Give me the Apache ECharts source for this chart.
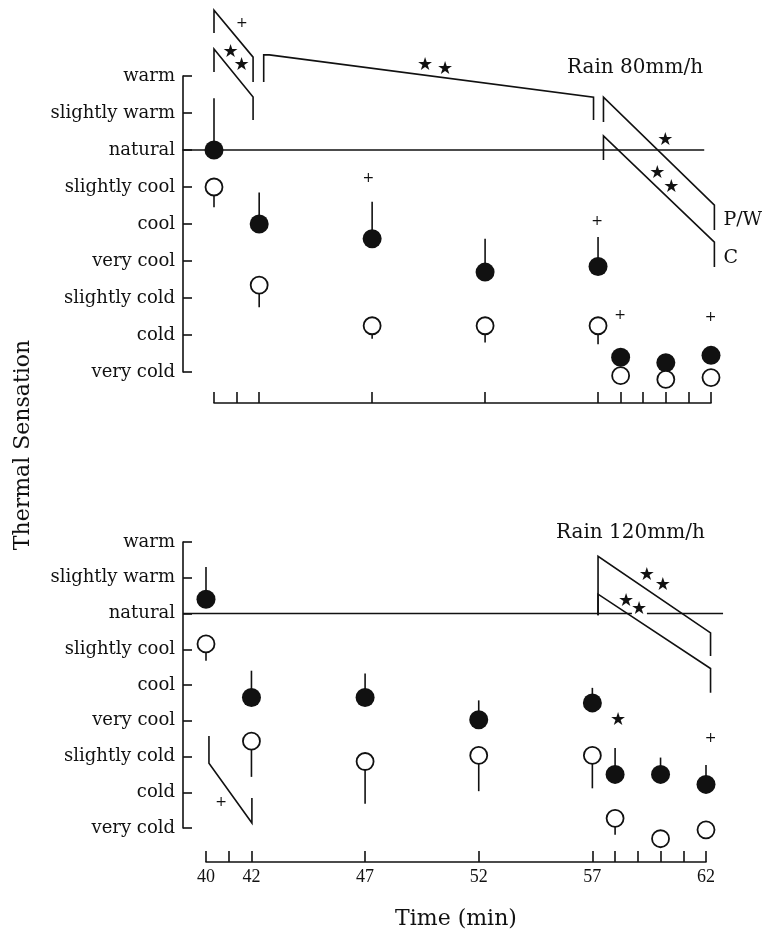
<!DOCTYPE html>
<html>
<head>
<meta charset="utf-8">
<script src="https://cdn.jsdelivr.net/npm/echarts@6/dist/echarts.min.js"></script>
<style>
  html, body { margin: 0; padding: 0; background: #fff; }
  #chart { width: 766px; height: 931px; }
</style>
</head>
<body>
<div id="chart"></div>
<script>
// thermal sensation scale, value 2 (warm) down to -6 (very cold)
const levels = ['warm', 'slightly warm', 'natural', 'slightly cool', 'cool',
  'very cool', 'slightly cold', 'cold', 'very cold']

const times = [40, 42, 47, 52, 57, 58, 60, 62]
const tickTimes = [40, 41, 42, 47, 52, 57, 58, 59, 60, 61, 62]
const labelTimes = [40, 42, 47, 52, 57, 62]

// Rain 80 mm/h  (filled = P/W, open = C), with end of the error bar
const pw80 = [0.0, -2.0, -2.4, -3.3, -3.15, -5.6, -5.75, -5.55]
const pw80Bar = [1.4, -1.15, -1.4, -2.4, -2.35, -5.6, -5.75, -5.55]
const c80 = [-1.0, -3.65, -4.75, -4.75, -4.75, -6.1, -6.2, -6.15]
const c80Bar = [-1.55, -4.25, -5.1, -5.2, -5.25, -6.1, -6.2, -6.15]

// Rain 120 mm/h
const pw120 = [0.4, -2.35, -2.35, -2.97, -2.5, -4.5, -4.5, -4.78]
const pw120Bar = [1.3, -1.6, -1.68, -2.43, -2.08, -3.76, -4.03, -4.24]
const c120 = [-0.85, -3.57, -4.14, -3.97, -3.97, -5.73, -6.3, -6.05]
const c120Bar = [-1.32, -4.57, -5.32, -4.97, -4.89, -6.19, -6.3, -6.05]

// significance brackets and the "natural" line, in (time, sensation) units
const brackets80 = [
  [[40, 3.16], [40, 3.78], [41.73, 2.51], [41.73, 1.84]],
  [[40, 2.11], [40, 2.73], [41.73, 1.43], [41.73, 0.81]],
  [[42.2, 1.84], [42.2, 2.57], [42.45, 2.57], [56.8, 1.43], [56.8, 0.81]],
  [[57.24, 0.76], [57.24, 1.43], [62.15, -1.49], [62.15, -2.16]],
  [[57.24, -0.27], [57.24, 0.38], [62.15, -2.49], [62.15, -3.16]],
  [[38.6, 0], [61.7, 0]]
]
const brackets120 = [
  [[57.25, -0.05], [57.25, 1.6], [62.2, -0.54], [62.2, -1.19]],
  [[57.25, -0.05], [57.25, 0.54], [62.2, -1.54], [62.2, -2.22]],
  [[40.13, -3.43], [40.13, -4.19], [42.02, -5.86], [42.02, -5.16]],
  [[38.99, 0], [58.74, 0]],
  [[59.4, 0], [62.75, 0]]
]

const marks80 = [
  [41.23, 3.41, '+'], [40.73, 2.65, '★'], [41.22, 2.3, '★'],
  [49.34, 2.3, '★'], [50.23, 2.19, '★'],
  [59.98, 0.27, '★'], [59.62, -0.62, '★'], [60.24, -1.0, '★'],
  [46.83, -0.76, '+'], [56.96, -1.92, '+'], [57.98, -4.46, '+'], [61.98, -4.51, '+']
]
const marks120 = [
  [59.4, 1.08, '★'], [60.1, 0.78, '★'], [58.48, 0.35, '★'], [59.05, 0.11, '★'],
  [40.66, -5.27, '+'], [58.13, -3.0, '★'], [62.2, -3.49, '+']
]
const tags80 = [[62.55, -1.89, 'P/W'], [62.55, -2.92, 'C']]

const serif = 'DejaVu Serif'
const ink = '#111'

function xAxisFor(idx, offset, showLabels) {
  return {
    type: 'value', gridIndex: idx, min: 40, max: 62, offset: offset,
    axisLine: { onZero: false, lineStyle: { color: ink, width: 1.6 } },
    axisTick: { inside: true, length: 11, customValues: tickTimes, lineStyle: { color: ink, width: 1.6 } },
    axisLabel: {
      show: showLabels, customValues: labelTimes, margin: 6,
      fontFamily: 'Liberation Serif', fontSize: 18, color: ink
    },
    splitLine: { show: false }
  }
}

function yAxisFor(idx, offset) {
  return {
    type: 'value', gridIndex: idx, min: -6, max: 2, interval: 1, offset: offset,
    axisLine: { show: true, onZero: false, lineStyle: { color: ink, width: 1.6 } },
    axisTick: { show: true, inside: true, length: 9, lineStyle: { color: ink, width: 1.6 } },
    axisLabel: {
      formatter: v => levels[2 - v], margin: 8,
      fontFamily: serif, fontSize: 18, color: ink
    },
    splitLine: { show: false }
  }
}

function barSeries(idx, vals, ends) {
  return {
    type: 'custom', xAxisIndex: idx, yAxisIndex: idx, z: 2, silent: true,
    data: times.map((t, i) => [t, vals[i], ends[i]]),
    renderItem: (params, api) => {
      const a = api.coord([api.value(0), api.value(1)])
      const b = api.coord([api.value(0), api.value(2)])
      return {
        type: 'line',
        shape: { x1: a[0], y1: a[1], x2: b[0], y2: b[1] },
        style: { stroke: ink, lineWidth: 1.6 }
      }
    }
  }
}

function dotSeries(idx, vals, filled) {
  return {
    type: 'scatter', xAxisIndex: idx, yAxisIndex: idx, z: 4, clip: false, silent: true,
    symbol: 'circle', symbolSize: filled ? 19 : 17,
    itemStyle: filled
      ? { color: ink, opacity: 1 }
      : { color: '#fff', borderColor: ink, borderWidth: 1.8, opacity: 1 },
    data: times.map((t, i) => [t, vals[i]])
  }
}

function bracketSeries(idx, list) {
  return {
    type: 'custom', xAxisIndex: idx, yAxisIndex: idx, z: 1, silent: true, clip: false,
    data: list.map((pts, i) => [pts[0][0], pts[0][1], i]),
    renderItem: (params, api) => {
      const pts = list[api.value(2)].map(p => api.coord(p))
      return {
        type: 'polyline',
        shape: { points: pts },
        style: { stroke: ink, lineWidth: 1.6, fill: null }
      }
    }
  }
}

function textSeries(idx, list, style) {
  return {
    type: 'scatter', xAxisIndex: idx, yAxisIndex: idx, z: 5, clip: false, silent: true,
    symbolSize: 0, itemStyle: { opacity: 1 },
    data: list.map(m => ({ value: [m[0], m[1]], name: m[2] })),
    label: Object.assign({
      show: true, position: 'inside', formatter: p => p.name, color: ink
    }, style)
  }
}

const chart = echarts.init(document.getElementById('chart'))

chart.setOption({
  backgroundColor: '#fff',
  animation: false,
  title: [
    { text: 'Rain 80mm/h', left: 562, top: 53, textStyle: { fontFamily: serif, fontSize: 20, fontWeight: 'normal', color: ink } },
    { text: 'Rain 120mm/h', left: 551, top: 518, textStyle: { fontFamily: serif, fontSize: 20, fontWeight: 'normal', color: ink } }
  ],
  grid: [
    { left: 214, width: 497, top: 76, height: 296 },
    { left: 206, width: 500, top: 542, height: 296 }
  ],
  xAxis: [
    xAxisFor(0, 31, false),
    Object.assign(xAxisFor(1, 34, true), {
      name: 'Time (min)', nameLocation: 'middle', nameGap: 46,
      nameTextStyle: { fontFamily: serif, fontSize: 22, color: ink }
    })
  ],
  yAxis: [yAxisFor(0, 31), yAxisFor(1, 23)],
  graphic: [{
    type: 'text', x: 23, y: 445, rotation: Math.PI / 2,
    style: {
      text: 'Thermal Sensation', fontFamily: serif, fontSize: 22, fill: ink,
      textAlign: 'center', textVerticalAlign: 'middle'
    }
  }],
  series: [
    bracketSeries(0, brackets80),
    bracketSeries(1, brackets120),
    barSeries(0, pw80, pw80Bar),
    barSeries(0, c80, c80Bar),
    barSeries(1, pw120, pw120Bar),
    barSeries(1, c120, c120Bar),
    dotSeries(0, pw80, true),
    dotSeries(0, c80, false),
    dotSeries(1, pw120, true),
    dotSeries(1, c120, false),
    textSeries(0, marks80.filter(m => m[2] === '★'), { fontFamily: 'DejaVu Sans', fontSize: 18 }),
    textSeries(0, marks80.filter(m => m[2] === '+'), { fontFamily: 'DejaVu Sans', fontSize: 14 }),
    textSeries(1, marks120.filter(m => m[2] === '★'), { fontFamily: 'DejaVu Sans', fontSize: 18 }),
    textSeries(1, marks120.filter(m => m[2] === '+'), { fontFamily: 'DejaVu Sans', fontSize: 14 }),
    textSeries(0, tags80, { position: 'right', distance: 0, fontFamily: serif, fontSize: 19 })
  ]
})
</script>
</body>
</html>
